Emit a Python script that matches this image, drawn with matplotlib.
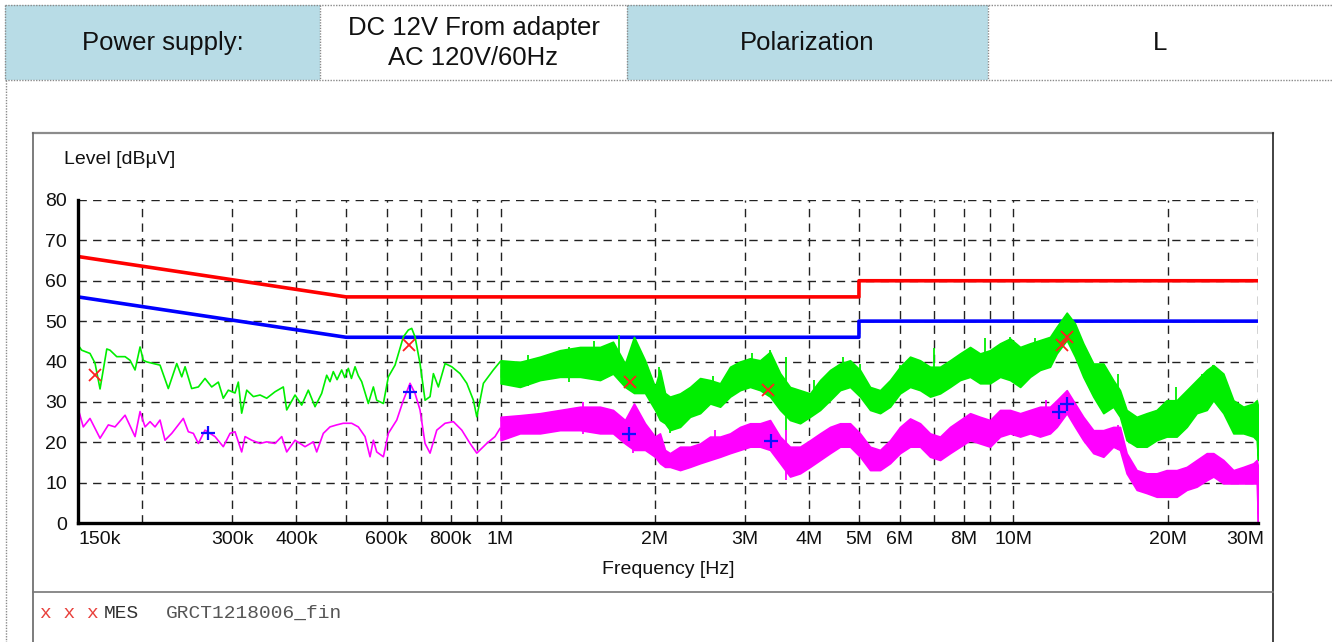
import matplotlib
matplotlib.use('Agg')
import matplotlib.pyplot as plt
import matplotlib.transforms as mtransforms

plt.rcParams['font.family'] = ['Liberation Sans', 'DejaVu Sans']

# header table
header_texts = ['Power supply:', 'DC 12V From adapter\nAC 120V/60Hz', 'Polarization', 'L']
header_edges = [5, 320, 627, 988, 1333]
header_fill = ['#b8dce6', 'white', '#b8dce6', 'white']

# limit lines (MHz, dBuV)
lim_f = [0.15, 0.5, 5.0, 5.0, 30.0]
qp_lim = [66, 56, 56, 60, 60]
av_lim = [56, 46, 46, 50, 50]

# peak trace below 1 MHz (kHz, dBuV)
pk_f_khz = [150, 152.5, 158.3, 161.9, 165.6, 170.7, 173.2, 178.5, 185.3, 189.5,
            193.8, 198.2, 201.1, 204.2, 210.4, 216.8, 225.0, 233.7, 239.0, 242.6,
            249.9, 257.5, 265.3, 273.4, 281.7, 288.0, 294.6, 303.6, 308.1, 312.8,
            320.0, 329.7, 339.7, 350.0, 363.3, 377.1, 382.9, 397.5, 409.5, 421.9,
            434.8, 448.0, 458.2, 465.0, 472.0, 480.0, 490.1, 497.0, 504.9, 512.0,
            520.4, 528.0, 536.2, 552.4, 565.0, 573.6, 591.0, 604.3, 622.8, 646.5,
            661.1, 671.2, 681.3, 696.7, 712.6, 728.8, 739.8, 756.5, 779.7, 803.4,
            833.9, 859.5, 885.4, 899.0, 926.1, 968.2, 997.6]
pk_lvl = [44.1, 42.8, 42.0, 39.6, 33.2, 43.1, 42.8, 41.2, 41.2, 40.3,
          37.9, 43.6, 40.3, 39.9, 39.5, 39.1, 33.3, 39.5, 36.2, 38.7,
          33.3, 33.7, 35.8, 33.7, 34.9, 30.9, 32.9, 32.2, 34.9, 27.2,
          32.9, 31.3, 31.7, 30.9, 32.5, 33.7, 28.0, 31.7, 29.2, 32.9,
          28.8, 32.1, 36.6, 35.0, 37.5, 35.5, 37.9, 36.0, 38.3, 35.8,
          38.7, 36.5, 35.0, 29.6, 33.7, 30.4, 29.6, 36.2, 39.1, 46.1,
          47.8, 48.2, 46.1, 39.5, 30.4, 31.3, 37.0, 33.7, 39.5, 38.7,
          37.0, 34.6, 30.4, 26.3, 34.6, 37.9, 39.9]

# average trace below 1 MHz (kHz, dBuV)
av_f_khz = [150, 153.6, 158.3, 165.6, 171.9, 177.1, 185.3, 193.8, 198.2, 202.7,
            207.3, 212.0, 216.8, 221.7, 228.5, 233.7, 240.7, 246.2, 251.8, 257.5,
            265.3, 277.5, 288.0, 296.9, 303.6, 312.8, 317.6, 327.2, 339.7, 350.0,
            363.3, 374.4, 382.9, 397.5, 415.7, 431.5, 438.1, 451.3, 465.0, 479.3,
            493.7, 512.6, 528.1, 544.3, 556.6, 565.0, 573.6, 591.0, 604.3, 627.6,
            646.5, 666.1, 681.3, 696.7, 712.6, 728.8, 751.1, 779.7, 809.3, 840.4,
            872.2, 899.0, 939.9, 975.6, 997.6]
av_lvl = [28.4, 23.8, 25.9, 21.0, 24.3, 23.8, 26.7, 21.4, 27.6, 23.8,
          25.1, 23.8, 25.5, 20.5, 22.2, 23.8, 25.9, 22.6, 22.2, 19.7,
          23.0, 21.4, 18.9, 22.2, 22.6, 17.6, 21.4, 20.5, 19.7, 20.1,
          19.7, 21.4, 17.6, 20.5, 18.9, 20.1, 17.6, 22.2, 23.8, 24.3,
          24.7, 24.7, 23.8, 21.4, 16.4, 20.5, 17.6, 16.4, 22.2, 25.5,
          30.4, 34.6, 32.1, 28.0, 19.7, 17.3, 23.0, 24.7, 25.1, 23.0,
          19.7, 17.3, 19.7, 21.4, 23.4]

# dense part above 1 MHz: envelope of the sweep (MHz, dBuV)
band_f = [1.000, 1.091, 1.194, 1.306, 1.429, 1.563, 1.657, 1.749, 1.821, 1.913,
          2.001, 2.046, 2.093, 2.140, 2.239, 2.342, 2.450, 2.562, 2.680, 2.803,
          2.932, 3.066, 3.207, 3.354, 3.509, 3.669, 3.838, 4.014, 4.199, 4.392,
          4.593, 4.804, 5.025, 5.256, 5.497, 5.749, 6.013, 6.289, 6.578, 6.880,
          7.196, 7.527, 7.872, 8.234, 8.612, 9.007, 9.421, 9.854, 10.31, 10.78,
          11.27, 11.79, 12.15, 12.71, 13.19, 13.69, 14.32, 14.98, 15.66, 16.14,
          16.63, 17.40, 18.20, 19.03, 19.90, 20.82, 21.78, 22.78, 23.83, 24.55,
          25.68, 26.86, 28.09, 29.38, 29.83, 30.0]
pk_hi = [40.3, 39.9, 41.2, 42.8, 43.6, 43.6, 44.9, 39.5, 46.1, 40.3,
         33.7, 37.9, 32.2, 31.3, 32.1, 33.7, 35.9, 35.4, 34.6, 38.7,
         40.0, 40.8, 40.3, 42.4, 37.1, 33.7, 32.9, 32.1, 35.4, 37.9,
         39.5, 40.3, 37.9, 33.7, 32.9, 35.4, 38.7, 41.2, 40.3, 38.7,
         38.7, 40.3, 42.0, 43.6, 42.0, 42.8, 44.5, 45.7, 43.6, 44.5,
         45.3, 46.1, 48.6, 52.1, 49.4, 44.5, 39.5, 39.5, 35.4, 32.9,
         28.0, 26.3, 27.2, 28.0, 30.4, 30.4, 32.9, 35.4, 37.9, 39.1,
         37.0, 30.4, 28.8, 29.6, 30.4, 29.0]
pk_lo = [34.6, 33.7, 35.4, 36.2, 36.2, 35.4, 37.0, 33.7, 32.2, 32.2,
         28.0, 25.5, 24.7, 23.0, 23.8, 26.3, 27.2, 29.6, 28.8, 31.3,
         32.9, 33.7, 32.9, 31.3, 28.0, 25.5, 24.7, 26.3, 28.0, 30.4,
         32.9, 33.7, 31.3, 28.0, 27.2, 28.8, 32.1, 33.7, 32.9, 31.3,
         32.1, 33.7, 35.4, 36.2, 34.6, 34.6, 36.2, 35.4, 33.7, 36.2,
         37.9, 38.7, 42.0, 45.3, 41.2, 36.2, 31.3, 27.2, 28.8, 26.3,
         20.5, 18.9, 18.9, 20.5, 21.4, 21.4, 23.8, 27.2, 28.0, 30.4,
         27.2, 22.2, 22.2, 21.4, 20.5, 15.6]
av_hi = [26.3, 26.7, 27.2, 28.0, 28.8, 28.8, 28.0, 25.5, 29.6, 24.7,
         21.4, 22.2, 18.1, 17.3, 18.9, 18.9, 19.7, 21.4, 21.4, 22.2,
         23.8, 24.7, 24.7, 25.5, 21.4, 18.9, 18.9, 20.5, 22.2, 23.8,
         24.7, 24.7, 22.2, 18.9, 18.1, 20.5, 23.8, 25.9, 24.7, 22.2,
         21.4, 23.8, 25.5, 27.2, 26.3, 25.5, 28.0, 28.0, 27.2, 28.0,
         28.8, 28.8, 30.4, 32.9, 29.6, 26.3, 23.0, 23.0, 23.8, 23.8,
         17.3, 13.1, 12.3, 12.3, 13.1, 13.1, 13.9, 15.6, 17.3, 17.3,
         15.6, 13.1, 13.9, 14.8, 15.6, 14.0]
av_lo = [20.5, 22.2, 22.2, 23.0, 23.0, 22.2, 22.2, 19.7, 18.1, 18.1,
         16.4, 14.8, 13.9, 13.9, 13.1, 13.9, 14.8, 15.6, 16.4, 17.3,
         18.1, 18.9, 18.9, 18.1, 14.8, 11.5, 12.3, 13.9, 15.6, 17.3,
         18.9, 18.9, 16.4, 13.1, 13.1, 14.8, 17.3, 18.9, 18.9, 16.4,
         15.6, 17.3, 18.9, 20.5, 19.7, 18.9, 21.4, 22.2, 21.4, 22.2,
         21.4, 22.2, 23.8, 27.2, 23.8, 20.5, 17.3, 16.4, 18.9, 18.1,
         12.3, 8.2, 7.4, 6.5, 6.5, 6.5, 8.2, 9.0, 10.6, 11.5,
         9.8, 9.8, 9.8, 9.8, 9.8, 0.0]

# single noise spikes sticking out of the dense sweep (MHz, bottom, top)
pk_spk_f = [1.13, 1.36, 1.52, 1.70, 2.04, 2.14, 2.60, 3.10, 3.35, 3.60, 4.08,
            4.65, 5.02, 6.00, 7.00, 8.80, 9.85, 11.0, 15.0, 16.0, 20.8, 23.3,
            24.5]
pk_spk_bot = [34.0, 35.0, 35.5, 36.0, 30.0, 22.2, 30.0, 34.0, 33.0, 23.0, 28.0,
              33.0, 32.0, 32.0, 32.0, 36.0, 37.0, 37.0, 30.0, 30.0, 23.0, 28.0,
              30.0]
pk_spk_top = [41.5, 43.5, 45.0, 46.5, 38.7, 30.0, 36.5, 42.0, 42.8, 41.0, 35.4,
              41.2, 39.5, 39.1, 43.4, 45.7, 46.1, 45.7, 39.5, 37.0, 33.7, 37.0,
              39.1]
av_spk_f = [1.45, 1.81, 2.62, 3.60, 3.60, 11.6, 16.0]
av_spk_bot = [22.0, 17.3, 16.0, 18.0, 10.6, 23.0, 18.0]
av_spk_top = [30.0, 26.0, 23.0, 23.0, 15.0, 30.4, 24.3]

# final measurement points
qp_mf = [0.1619, 0.664, 1.788, 3.33, 12.43, 12.75]
qp_ml = [36.6, 44.1, 35.0, 32.9, 44.1, 46.0]
av_mf = [0.269, 0.666, 1.78, 3.37, 12.29, 12.7]
av_ml = [22.4, 32.5, 22.0, 20.4, 27.5, 29.5]

# axis ticks
yticks = [0, 10, 20, 30, 40, 50, 60, 70, 80]
xtick_f = [0.15, 0.3, 0.4, 0.6, 0.8, 1, 2, 3, 4, 5, 6, 8, 10, 20, 30]
xtick_lab = ['150k', '300k', '400k', '600k', '800k', '1M', '2M', '3M', '4M',
             '5M', '6M', '8M', '10M', '20M', '30M']
vgrid_f = [0.2, 0.3, 0.4, 0.5, 0.6, 0.7, 0.8, 0.9, 1, 2, 3, 4, 5, 6, 7, 8, 9,
           10, 20, 30]

W, H = 1333, 642
fig = plt.figure(figsize=(W / 100, H / 100), dpi=100)

bg = fig.add_axes([0, 0, 1, 1])
bg.set_xlim(0, W)
bg.set_ylim(H, 0)
bg.axis('off')

# header cells
for i in range(4):
    x0, x1 = header_edges[i], header_edges[i + 1]
    bg.add_patch(plt.Rectangle((x0, 5), x1 - x0, 75, facecolor=header_fill[i],
                               edgecolor='none'))
    bg.text((x0 + x1) / 2, 43, header_texts[i], ha='center', va='center',
            fontsize=18.5, linespacing=1.35, color='#111111')
dot = dict(color='#8a8a8a', lw=1, ls=(0, (1, 1)))
bg.plot([5, W], [5, 5], **dot)
bg.plot([5, W], [80, 80], **dot)
for xe in header_edges[:-1]:
    bg.plot([xe, xe], [5, 80], **dot)
bg.plot([6, 6], [80, H], **dot)

# chart frame
bg.plot([33, 1273], [133, 133], color='#8c8c8c', lw=1.6)
bg.plot([33, 33], [133, H], color='#666666', lw=1.2)
bg.plot([1273, 1273], [133, H], color='#222222', lw=1.2)
bg.plot([33, 1273], [592, 592], color='#777777', lw=1.2)

bg.text(64, 160, 'Level [dB\u00b5V]', ha='left', va='center', fontsize=14,
        color='#111111')
bg.text(668, 570, 'Frequency [Hz]', ha='center', va='center', fontsize=14,
        color='#111111')

mono = ['Liberation Mono', 'DejaVu Sans Mono']
bg.text(40, 613, 'x x x', ha='left', va='center', fontsize=14, family=mono,
        color='#e8413c')
bg.text(104, 613, 'MES', ha='left', va='center', fontsize=14, family=mono,
        color='#333333')
bg.text(166, 613, 'GRCT1218006_fin', ha='left', va='center', fontsize=14,
        family=mono, color='#555555')

ax = fig.add_axes([78 / W, (H - 523) / H, 1180 / W, 323 / H])
ax.set_xscale('log')
ax.set_xlim(0.15, 30)
ax.set_ylim(0, 80)
ax.patch.set_alpha(0)

gstyle = dict(color='#222222', lw=1, ls=(0, (6, 4.5)), zorder=1)
for y in yticks[1:]:
    ax.axhline(y, **gstyle)
for f in vgrid_f:
    ax.axvline(f, **gstyle)

ax.plot(lim_f, qp_lim, color='#ff0000', lw=2.6, zorder=3)
ax.plot(lim_f, av_lim, color='#0000ff', lw=2.6, zorder=3)

green, magenta = '#00ee00', '#ff00ff'
pk_f = [f / 1000 for f in pk_f_khz]
av_f = [f / 1000 for f in av_f_khz]
ax.plot(pk_f, pk_lvl, color=green, lw=1.2, zorder=4)
ax.fill_between(band_f, pk_lo, pk_hi, color=green, lw=1.2, zorder=4)
ax.vlines(pk_spk_f, pk_spk_bot, pk_spk_top, color=green, lw=1.3, zorder=4)
ax.plot(av_f, av_lvl, color=magenta, lw=1.2, zorder=5)
ax.fill_between(band_f, av_lo, av_hi, color=magenta, lw=1.2, zorder=5)
ax.vlines(av_spk_f, av_spk_bot, av_spk_top, color=magenta, lw=1.3, zorder=5)

ax.plot(qp_mf, qp_ml, ls='none', marker='x', ms=9, mew=1.3, color='#ff2020',
        zorder=6)
ax.plot(av_mf, av_ml, ls='none', marker='+', ms=10, mew=1.6, color='#1010ff',
        zorder=6)

for s in ['top', 'right']:
    ax.spines[s].set_visible(False)
for s in ['left', 'bottom']:
    ax.spines[s].set_linewidth(2.4)
    ax.spines[s].set_color('black')
    ax.spines[s].set_zorder(7)

ax.set_yticks(yticks)
ax.set_xticks(xtick_f)
ax.set_xticklabels(xtick_lab)
ax.minorticks_off()
ax.tick_params(length=0, labelsize=14, colors='#111111')
ax.tick_params(axis='y', pad=8)
ax.tick_params(axis='x', pad=6)
labs = ax.get_xticklabels()
labs[0].set_ha('left')
labs[-1].set_transform(labs[-1].get_transform() +
                       mtransforms.ScaledTranslation(-0.13, 0, fig.dpi_scale_trans))

fig.savefig('out.png', dpi=100)
